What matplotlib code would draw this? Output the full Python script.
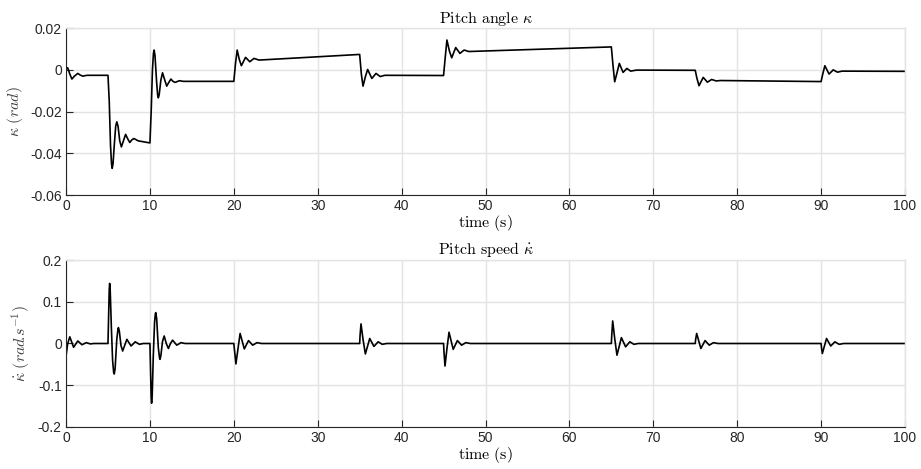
import matplotlib
matplotlib.use('Agg')
import matplotlib.pyplot as plt

# --- dados ---
t_kappa = [0, 0.2, 0.45, 0.7, 1.0, 1.4, 1.7, 2.0, 2.5, 5.0,
           5.15, 5.3, 5.42, 5.5, 5.6, 5.75, 5.92, 6.05, 6.2, 6.4, 6.6, 6.8, 7.1, 7.35, 7.6, 7.85, 8.1, 8.6, 10.0,
           10.15, 10.3, 10.42, 10.5, 10.6, 10.8, 10.92, 11.0, 11.1, 11.3, 11.5, 11.7, 12.0, 12.25, 12.5, 12.75,
           13.0, 13.5, 14.0, 20.0,
           20.2, 20.4, 20.65, 20.9, 21.4, 21.9, 22.4, 23.0, 35.0,
           35.2, 35.4, 35.7, 35.95, 36.45, 36.95, 37.45, 38.0, 45.0,
           45.2, 45.4, 45.7, 45.97, 46.45, 46.95, 47.45, 48.0, 65.0,
           65.2, 65.4, 65.7, 65.95, 66.4, 66.85, 67.3, 68.0, 75.0,
           75.2, 75.45, 75.95, 76.45, 76.95, 77.5, 78.0, 90.0,
           90.2, 90.45, 90.95, 91.45, 91.95, 92.5, 100.0]
kappa = [0.0003, 0.001, -0.002, -0.0044, -0.003, -0.0017, -0.0025, -0.003, -0.0026, -0.0026,
         -0.015, -0.036, -0.045, -0.0472, -0.045, -0.036, -0.027, -0.0249, -0.027, -0.034, -0.0369, -0.0345,
         -0.0309, -0.033, -0.0348, -0.0335, -0.0329, -0.034, -0.035,
         -0.02, 0.0, 0.008, 0.0095, 0.007, -0.006, -0.012, -0.0134, -0.012, -0.005, -0.0014, -0.004, -0.0078,
         -0.006, -0.0044, -0.0055, -0.006, -0.0052, -0.0055, -0.0055,
         0.003, 0.0095, 0.005, 0.002, 0.006, 0.0039, 0.0055, 0.0047, 0.0074,
         -0.002, -0.0078, -0.003, 0.0002, -0.0041, -0.0017, -0.0032, -0.0026, -0.0027,
         0.006, 0.0143, 0.009, 0.0058, 0.0107, 0.0079, 0.0095, 0.0088, 0.011,
         0.002, -0.0057, -0.001, 0.0031, -0.0012, 0.0007, -0.0006, -0.0001, -0.0002,
         -0.004, -0.0076, -0.0036, -0.0059, -0.0046, -0.0053, -0.0051, -0.0056,
         -0.002, 0.002, -0.002, 0.0, -0.0011, -0.0006, -0.0007]

t_rate = [0, 0.2, 0.45, 0.9, 1.4, 1.9, 2.4, 2.9, 3.3, 5.0,
          5.08, 5.15, 5.2, 5.27, 5.4, 5.55, 5.68, 5.75, 5.85, 6.05, 6.2, 6.25, 6.35, 6.55, 6.75, 7.0,
          7.25, 7.5, 7.75, 8.25, 8.75, 9.2, 10.0,
          10.08, 10.15, 10.2, 10.27, 10.4, 10.55, 10.65, 10.7, 10.8, 11.0, 11.15, 11.2, 11.3, 11.5, 11.7,
          11.95, 12.2, 12.45, 12.7, 13.2, 13.7, 14.2, 20.0,
          20.1, 20.25, 20.5, 20.75, 21.25, 21.75, 22.25, 22.75, 23.3, 35.0,
          35.05, 35.16, 35.4, 35.68, 36.2, 36.7, 37.2, 37.7, 38.2, 45.0,
          45.05, 45.17, 45.4, 45.65, 46.15, 46.65, 47.15, 47.65, 48.2, 65.0,
          65.05, 65.16, 65.4, 65.67, 66.2, 66.7, 67.2, 67.7, 68.2, 75.0,
          75.05, 75.17, 75.67, 76.17, 76.67, 77.17, 77.7, 90.0,
          90.05, 90.15, 90.65, 91.15, 91.65, 92.15, 92.7, 100.0]
rate = [-0.03, 0.0, 0.016, -0.009, 0.006, -0.003, 0.002, -0.001, 0.0, 0.0,
        0.07, 0.13, 0.144, 0.125, 0.04, -0.04, -0.07, -0.073, -0.06, 0.01, 0.036, 0.038, 0.03, -0.005,
        -0.018, -0.004, 0.010, 0.002, -0.006, 0.004, -0.002, 0.0, 0.0,
        -0.07, -0.13, -0.143, -0.125, -0.03, 0.05, 0.072, 0.074, 0.06, -0.01, -0.035, -0.038, -0.03,
        0.005, 0.018, 0.0, -0.012, 0.0, 0.008, -0.004, 0.002, 0.0, 0.0,
        -0.02, -0.049, -0.012, 0.024, -0.013, 0.007, -0.004, 0.002, 0.0, 0.0,
        0.02, 0.047, 0.01, -0.025, 0.012, -0.007, 0.004, -0.002, 0.0, 0.0,
        -0.02, -0.054, -0.013, 0.027, -0.014, 0.007, -0.004, 0.002, 0.0, 0.0,
        0.02, 0.054, 0.012, -0.028, 0.014, -0.008, 0.004, -0.002, 0.0, 0.0,
        0.01, 0.024, -0.012, 0.007, -0.004, 0.002, 0.0, 0.0,
        -0.01, -0.024, 0.012, -0.006, 0.004, -0.002, 0.0, 0.0]

xticks = [0, 10, 20, 30, 40, 50, 60, 70, 80, 90, 100]
yticks_kappa = [0.02, 0, -0.02, -0.04, -0.06]
ylabels_kappa = ['0.02', '0', '-0.02', '-0.04', '-0.06']
yticks_rate = [0.2, 0.1, 0, -0.1, -0.2]
ylabels_rate = ['0.2', '0.1', '0', '-0.1', '-0.2']

# --- estilo tipo MATLAB ---
plt.rcParams['mathtext.fontset'] = 'cm'
plt.rcParams['font.family'] = ['Liberation Sans', 'DejaVu Sans']
plt.rcParams['axes.unicode_minus'] = False

fig = plt.figure(figsize=(9.21, 4.69), dpi=100)
ax1 = fig.add_axes([0.0717, 0.584, 0.9109, 0.356])
ax2 = fig.add_axes([0.0717, 0.0896, 0.9109, 0.356])

COR_GRID = '#e3e3e3'
COR_EIXO = '#262626'


def estilo(ax, yt, yl, ylim):
    ax.set_xlim(0, 100)
    ax.set_ylim(*ylim)
    ax.set_xticks(xticks)
    ax.set_xticklabels([str(v) for v in xticks])
    ax.set_yticks(yt)
    ax.set_yticklabels(yl)
    ax.grid(True, color=COR_GRID, linewidth=1.0)
    ax.set_axisbelow(True)
    for s in ['top', 'right']:
        ax.spines[s].set_color(COR_GRID)
        ax.spines[s].set_linewidth(1.0)
    for s in ['left', 'bottom']:
        ax.spines[s].set_color(COR_EIXO)
        ax.spines[s].set_linewidth(0.8)
    ax.tick_params(direction='in', length=5, width=0.8, colors=COR_EIXO,
                   labelsize=10, top=False, right=False, pad=3)


ax1.plot(t_kappa, kappa, color='black', lw=1.2)
estilo(ax1, yticks_kappa, ylabels_kappa, (-0.06, 0.02))
ax1.set_title(r'$\mathrm{Pitch\ angle}\ \kappa$', fontsize=11.5, pad=4)
ax1.set_xlabel(r'$\mathrm{time\ (s)}$', fontsize=11.5, labelpad=0)
ax1.set_ylabel(r'$\kappa\ (rad)$', fontsize=11.5, labelpad=4, color='#404040')

ax2.plot(t_rate, rate, color='black', lw=1.2)
estilo(ax2, yticks_rate, ylabels_rate, (-0.2, 0.2))
ax2.set_title(r'$\mathrm{Pitch\ speed}\ \dot{\kappa}$', fontsize=11.5, pad=4)
ax2.set_xlabel(r'$\mathrm{time\ (s)}$', fontsize=11.5, labelpad=0)
ax2.set_ylabel(r'$\dot{\kappa}\ (rad\!.\!s^{-1})$', fontsize=11.5, labelpad=4, color='#404040')

fig.savefig('out.png', dpi=100, facecolor='white')
